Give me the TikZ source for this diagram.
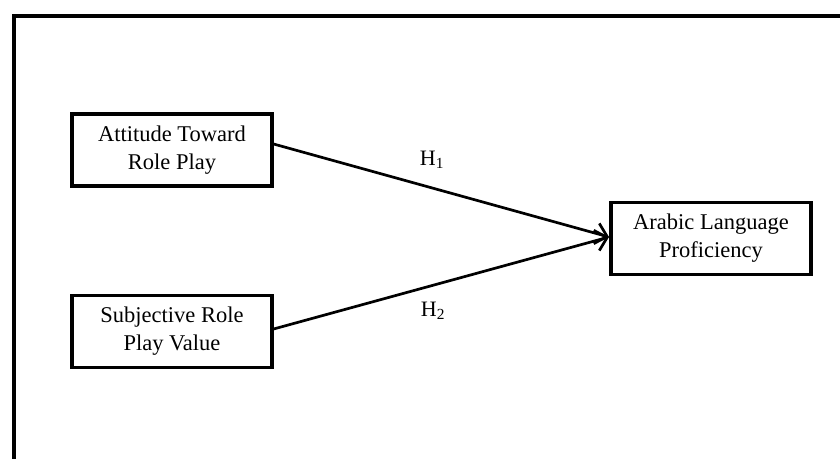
\documentclass[tikz,border=0pt]{standalone}
\usepackage{fontspec}
\setmainfont{Liberation Serif}
\usetikzlibrary{arrows.meta}
\begin{document}
\begin{tikzpicture}[x=1pt,y=-1pt,
  box/.style={draw,line width=3.2pt,minimum width=200pt,minimum height=72pt,align=center,inner sep=0pt,font=\fontsize{22.5}{28}\selectfont},
  conn/.style={line width=2.7pt,-{Straight Barb[length=11pt,width=21pt,line width=2.7pt]}},
  lab/.style={font=\fontsize{22}{25}\selectfont}]
\useasboundingbox (0,0) rectangle (840,458);
\begin{scope}
\clip (0,0) rectangle (840,458);
\draw[line width=3.2pt] (14,16) rectangle (860,480);
\end{scope}
\node[box] (a) at (172,150) {Attitude Toward\\Role Play};
\node[box] (s) at (172,331.5) {Subjective Role\\Play Value};
\node[box] (p) at (711,238.5) {Arabic Language\\Proficiency};
\coordinate (tip) at (609,237);
\draw[conn] (a.east |- 0,144) -- (tip);
\draw[conn] (s.east |- 0,329) -- (tip);
\node[lab] (h1) at (432,160) {H\textsubscript{1}};
\node[lab] (h2) at (433,311) {H\textsubscript{2}};
\end{tikzpicture}
\end{document}
